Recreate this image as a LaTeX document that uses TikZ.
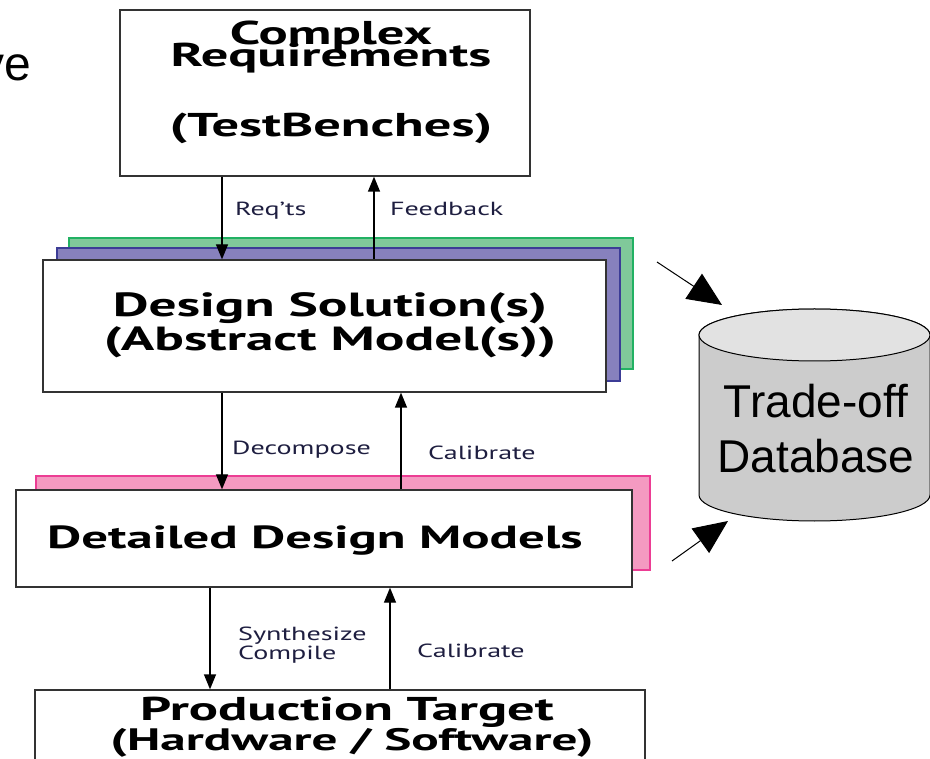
\documentclass[tikz,border=0pt]{standalone}
\usepackage{fontspec}
\setmainfont{Liberation Sans}
\newfontfamily\headfont{PT Sans}[FakeStretch=1.65]
\newfontfamily\tagfont{PT Sans}[FakeStretch=1.48]
\usetikzlibrary{arrows.meta}

\definecolor{layergreen}{HTML}{80C99A}
\definecolor{edgegreen}{HTML}{22B163}
\definecolor{layerpurple}{HTML}{8781BD}
\definecolor{edgepurple}{HTML}{3C3C96}
\definecolor{layerpink}{HTML}{F49AC1}
\definecolor{edgepink}{HTML}{EC3D94}
\definecolor{tagcolor}{HTML}{1E1E40}
\definecolor{boxedge}{HTML}{333333}
\definecolor{dbbody}{HTML}{CCCCCC}
\definecolor{dbtop}{HTML}{E2E2E2}

\tikzset{
  box/.style={draw=boxedge, line width=1.3pt, fill=white, rectangle, inner sep=0pt},
  headtext/.style={font=\headfont\bfseries\fontsize{#1}{#1}\selectfont, inner sep=0pt, anchor=base},
  headtext/.default=33,
  tag/.style={font=\tagfont\fontsize{19}{19}\selectfont, text=tagcolor, inner sep=0pt, anchor=base west},
  flow/.style={line width=1.3pt, -{Triangle[length=15pt,width=12pt]}},
  bigflow/.style={line width=1pt, -{Triangle[length=34pt,width=30pt]}},
  dbtext/.style={font=\fontsize{46}{46}\selectfont, inner sep=0pt, anchor=base}
}

\begin{document}
\begin{tikzpicture}[x=1pt, y=-1pt]
\useasboundingbox (0,0) rectangle (930,759);
\clip (0,0) rectangle (930,759);

% partial word at the left margin
\node[font=\fontsize{48}{48}\selectfont, inner sep=0pt, anchor=base east] (ve) at (31,81) {ve};

% requirements box
\node[box, minimum width=410pt, minimum height=166pt] (req) at (325,93) {};
\node[headtext=33] (reqa) at (331,45) {Complex};
\node[headtext=33] (reqb) at (331,67) {Requirements};
\node[headtext=33] (reqc) at (331,137) {(TestBenches)};

% stacked design solutions
\filldraw[fill=layergreen, draw=edgegreen, line width=1.2pt] (69,238) rectangle (633,369);
\filldraw[fill=layerpurple, draw=edgepurple, line width=1.2pt] (57,248) rectangle (620,381);
\node[box, minimum width=563pt, minimum height=132pt] (ds) at (324.5,326) {};
\node[headtext=33.5] (dsa) at (330,317) {Design Solution(s)};
\node[headtext=33.5] (dsb) at (330,351) {(Abstract Model(s))};

% detailed models with pink layer
\filldraw[fill=layerpink, draw=edgepink, line width=1.2pt] (36,476) rectangle (650,570);
\node[box, minimum width=616pt, minimum height=97pt] (ddm) at (324,538.5) {};
\node[headtext=32] (ddmt) at (315,548) {Detailed Design Models};

% production target (runs off the bottom edge)
\node[box, minimum width=610pt, minimum height=90pt] (pt) at (340,735) {};
\node[headtext=33] (pta) at (347,720) {Production Target};
\node[headtext=31] (ptb) at (352,750) {(Hardware / Software)};

% vertical flows
\draw[flow] ([xshift=-103pt]req.south) -- ([xshift=-102.5pt]ds.north);
\draw[flow] ([xshift=49.5pt]ds.north) -- ([xshift=49pt]req.south);
\draw[flow] ([xshift=-102.5pt]ds.south) -- ([xshift=-102pt]ddm.north);
\draw[flow] ([xshift=77pt]ddm.north) -- ([xshift=76.5pt]ds.south);
\draw[flow] ([xshift=-114pt]ddm.south) -- ([xshift=-130pt]pt.north);
\draw[flow] ([xshift=50pt]pt.north) -- ([xshift=66pt]ddm.south);

% flow labels
\node[tag] (l1) at (235,216) {Req’ts};
\node[tag] (l2) at (390,216) {Feedback};
\node[tag] (l3) at (232,455) {Decompose};
\node[tag] (l4) at (428,460) {Calibrate};
\node[tag] (l5) at (238,640) {Synthesize};
\node[tag] (l6) at (238,659) {Compile};
\node[tag] (l7) at (417,657) {Calibrate};

% trade-off database cylinder
\filldraw[fill=dbbody, draw=black, line width=1pt]
  (699,335) -- (699,495) arc[start angle=180, end angle=360, x radius=115.5pt, y radius=26pt]
  -- (930,335) arc[start angle=0, end angle=180, x radius=115.5pt, y radius=26pt] -- cycle;
\filldraw[fill=dbtop, draw=black, line width=1pt]
  (699,335) arc[start angle=180, end angle=360, x radius=115.5pt, y radius=26pt]
  arc[start angle=0, end angle=180, x radius=115.5pt, y radius=26pt] -- cycle;
\node[dbtext] (dba) at (816,418) {Trade-off};
\node[dbtext] (dbb) at (816,473) {Database};
\coordinate (dbin1) at (722,305);
\coordinate (dbin2) at (728,521);
\coordinate (src1) at (657,262);
\coordinate (src2) at (672,561);
\draw[bigflow] (src1) -- (dbin1);
\draw[bigflow] (src2) -- (dbin2);
\end{tikzpicture}
\end{document}
